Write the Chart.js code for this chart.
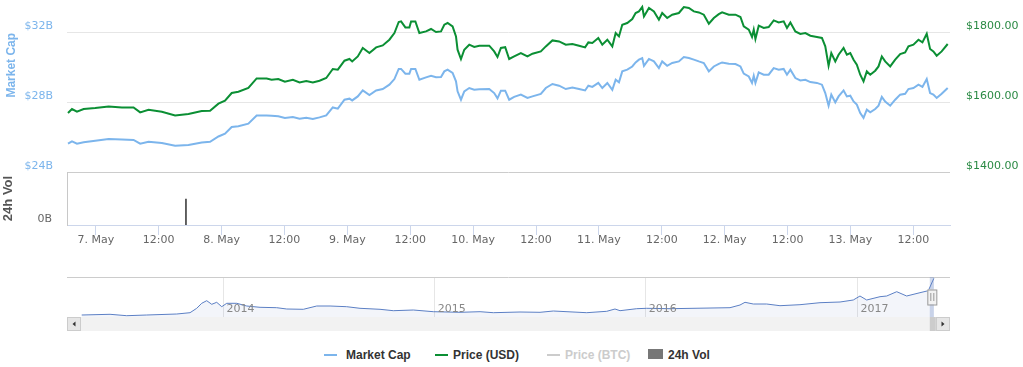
<!DOCTYPE html>
<html>
<head>
<meta charset="utf-8">
<script src="https://cdn.jsdelivr.net/npm/chart.js@4.4.0/dist/chart.umd.min.js"></script>
<style>
html,body{margin:0;padding:0;background:#fff;}
#wrap{position:relative;width:1023px;height:367px;overflow:hidden;background:#fff;}
#main{position:absolute;left:0;top:0;}
#nav{position:absolute;left:0;top:262px;}
.lg{position:absolute;font:bold 12px "Liberation Sans",Arial,sans-serif;color:#333;line-height:14px;white-space:nowrap;}
.sym{position:absolute;}
</style>
</head>
<body>
<div id="wrap">
  <canvas id="main" width="1023" height="260"></canvas>
  <canvas id="nav" width="1023" height="75"></canvas>
  <div class="sym" style="left:324px;top:354px;width:13px;height:2px;background:#7cb5ec"></div>
  <div class="lg" style="left:346px;top:348px;">Market Cap</div>
  <div class="sym" style="left:435px;top:354px;width:13px;height:2px;background:#0b8f34"></div>
  <div class="lg" style="left:453px;top:348px;">Price (USD)</div>
  <div class="sym" style="left:547px;top:354px;width:13px;height:2px;background:#cccccc"></div>
  <div class="lg" style="left:565px;top:348px;color:#cccccc">Price (BTC)</div>
  <div class="sym" style="left:648px;top:349px;width:15px;height:10px;background:#777777"></div>
  <div class="lg" style="left:668px;top:348px;">24h Vol</div>
</div>
<script>
// ---- data (hours since 7 May 2017 00:00) ----
const hours = [-5.31,-4.55,-3.60,-2.32,-0.11,2.44,4.98,7.20,8.46,10.06,12.60,15.13,17.68,20.21,21.80,23.40,24.65,25.93,27.20,29.11,30.69,32.60,33.55,34.82,36.08,37.60,38.88,40.16,41.41,42.69,43.97,45.22,46.18,47.45,48.40,48.92,49.99,50.94,52.21,53.49,54.75,56.02,56.98,57.80,58.25,59.07,59.83,60.16,60.98,61.74,63.01,63.97,64.92,65.87,66.50,67.13,68.08,68.73,69.03,69.68,70.31,71.26,72.21,73.17,75.07,76.02,76.65,77.30,78.12,78.88,79.83,81.11,82.37,83.32,84.92,85.87,87.13,88.40,89.68,90.94,92.21,93.36,93.99,94.75,95.89,96.65,97.61,98.56,99.20,99.83,100.46,101.41,102.37,103.01,103.64,104.27,104.60,105.55,106.50,107.45,108.08,109.03,109.99,111.26,112.21,113.17,114.12,115.07,116.02,116.98,117.93,118.88,119.51,120.79,122.06,123.01,123.64,124.60,125.22,125.55,125.87,126.50,127.45,128.40,129.36,130.31,131.26,131.89,132.54,133.49,134.44,135.40,136.35,137.60,138.56,139.20,139.83,140.35,141.11,141.74,142.69,143.32,143.97,144.60,145.22,145.87,146.50,147.13,147.78,148.73,149.36,149.99,150.63,151.59,152.54,153.49,154.44,155.07,156.02,156.98,157.74,158.56,159.20,159.83,160.46,161.41,162.56];
const priceUsd = [1568.6,1580.0,1572.3,1580.0,1582.9,1587.4,1584.6,1584.6,1570.3,1578.0,1572.3,1561.7,1565.7,1574.3,1575.1,1595.2,1603.7,1625.7,1629.4,1640.0,1667.4,1667.4,1663.7,1665.7,1658.0,1663.7,1656.0,1660.0,1656.0,1660.9,1668.6,1694.3,1692.3,1718.0,1722.9,1716.0,1730.3,1754.3,1740.0,1756.0,1761.7,1778.0,1797.1,1828.6,1830.3,1813.1,1813.1,1830.3,1830.3,1797.1,1801.7,1808.6,1800.0,1801.7,1820.9,1825.7,1816.0,1787.4,1749.4,1722.9,1749.4,1763.7,1757.1,1760.9,1760.9,1744.6,1728.6,1754.3,1756.6,1722.9,1730.3,1740.0,1730.3,1738.0,1744.6,1758.9,1776.0,1773.1,1763.7,1765.7,1760.9,1756.0,1770.3,1768.6,1782.9,1763.7,1778.0,1758.9,1797.1,1787.4,1820.9,1825.7,1837.1,1854.3,1858.9,1871.4,1844.6,1868.6,1858.9,1835.1,1854.3,1840.0,1849.4,1854.3,1871.4,1868.6,1858.9,1856.0,1849.4,1823.7,1840.0,1850.9,1856.0,1849.4,1849.4,1842.9,1816.0,1806.6,1785.7,1806.6,1780.0,1818.0,1811.4,1814.3,1833.1,1827.4,1830.3,1811.4,1827.4,1801.7,1794.3,1797.1,1789.4,1785.7,1782.9,1758.9,1703.7,1740.0,1716.0,1735.1,1754.3,1735.1,1740.0,1720.9,1706.6,1678.0,1658.9,1687.4,1678.0,1689.4,1701.7,1730.3,1716.0,1701.7,1720.9,1737.1,1741.7,1758.9,1763.7,1778.0,1770.3,1795.1,1751.4,1744.6,1732.3,1744.6,1765.7];
const marketCapB = [25.62,25.75,25.62,25.70,25.79,25.89,25.86,25.83,25.62,25.73,25.66,25.50,25.54,25.69,25.73,26.03,26.19,26.57,26.62,26.76,27.23,27.23,27.21,27.18,27.09,27.14,27.05,27.10,27.03,27.12,27.23,27.69,27.62,28.13,28.19,28.09,28.32,28.66,28.40,28.66,28.74,28.99,29.31,29.89,29.89,29.62,29.62,29.89,29.89,29.27,29.41,29.50,29.41,29.43,29.75,29.85,29.66,29.18,28.61,28.13,28.61,28.80,28.70,28.73,28.74,28.51,28.21,28.65,28.65,28.13,28.29,28.42,28.23,28.32,28.46,28.80,29.03,28.93,28.74,28.83,28.74,28.66,28.93,28.86,29.09,28.80,29.09,28.70,29.27,29.12,29.75,29.85,30.03,30.26,30.42,30.51,30.07,30.46,30.32,29.94,30.32,30.07,30.23,30.32,30.57,30.51,30.42,30.32,30.23,29.75,30.03,30.18,30.26,30.19,30.17,30.03,29.62,29.46,29.09,29.50,29.09,29.69,29.56,29.56,29.94,29.85,29.89,29.56,29.85,29.37,29.23,29.27,29.14,29.09,28.99,28.51,27.79,28.42,27.98,28.32,28.66,28.32,28.36,28.03,27.85,27.37,27.09,27.56,27.41,27.60,27.79,28.29,28.03,27.79,28.13,28.42,28.47,28.74,28.80,28.99,28.86,29.31,28.51,28.42,28.23,28.47,28.80];
const volHours = [17.2];
const volB = [0.98];
const mcTicks = [24, 28, 32];
const priceTicks = [1400, 1600, 1800];
const dayLabels = ['7. May','8. May','9. May','10. May','11. May','12. May','13. May'];

// navigator (days since 1 Jan 2014, market cap in $B)
const navDays = [-244.3,-195.3,-166.5,-131.9,-80,-57,-45.5,-36.8,-28.2,-19.5,-10.9,-2.2,6.4,23.7,41,64,92.8,110.1,138.8,162,185,213.8,236.8,271.4,294.4,329,363.5,409.7,444.3,467.3,513.4,548,571,628.7,663.3,677.6,686.3,715.1,732.4,772.7,876.4,893.7,902.3,916.7,939.8,962.8,997.4,1032,1066.6,1089.5,1101.1,1112.7,1135.7,1147.3,1164.6,1181.8,1204.8,1219.2,1228.8];
const navCapB = [1.6,2.16,1.04,1.6,2.4,3.44,6.96,10.96,13.04,10.16,11.76,8.24,10.96,10.96,8.8,7.76,7.44,6.4,6.16,8.8,8.8,8.24,6.96,6.16,5.04,5.6,4.24,3.76,4.24,3.44,4.0,3.76,4.8,3.44,4.56,6.4,5.04,6.64,6.96,6.64,7.44,9.6,11.76,10.4,10.4,9.04,9.84,11.44,12,13.6,16.8,13.6,16.24,16.8,20.24,16.8,19.44,21.04,30.96];
const navYearDays = [0, 365, 730, 1096];
const navYearLabels = ['2014','2015','2016','2017'];
const navSelection = [1221.77, 1228.79];

// ---- styling ----
const C_MC = '#7cb5ec';
const C_PRICE = '#0b8f34';
Chart.defaults.font.family = '"DejaVu Sans", Verdana, sans-serif';
Chart.defaults.font.size = 11;

const toXY = (xs, ys) => xs.map((x, i) => ({x, y: ys[i]}));
const fitY = w => s => { s.width = w; s.paddingTop = 0; s.paddingBottom = 0; };

const mcTitle = {
  id: 'mcTitle',
  afterDraw(chart) {
    const ctx = chart.ctx;
    const s = chart.scales.yMC;
    ctx.save();
    ctx.translate(11.5, s.getPixelForValue(30.1));
    ctx.rotate(-Math.PI / 2);
    ctx.font = 'bold 12px "Liberation Sans", Arial, sans-serif';
    ctx.fillStyle = C_MC;
    ctx.textAlign = 'center';
    ctx.textBaseline = 'middle';
    ctx.fillText('Market Cap', 0, 0);
    ctx.restore();
  }
};

new Chart(document.getElementById('main'), {
  type: 'line',
  data: {
    datasets: [
      {label: 'Market Cap', data: toXY(hours, marketCapB), yAxisID: 'yMC', borderColor: C_MC, borderWidth: 2, pointRadius: 0, tension: 0, order: 2},
      {label: 'Price (USD)', data: toXY(hours, priceUsd), yAxisID: 'yPrice', borderColor: C_PRICE, borderWidth: 2, pointRadius: 0, tension: 0, order: 1},
      {type: 'bar', label: '24h Vol', data: toXY(volHours, volB), yAxisID: 'yVol', backgroundColor: '#444444', barThickness: 1, order: 3}
    ]
  },
  options: {
    responsive: false, animation: false,
    layout: {padding: {top: 4, left: 0, right: 0, bottom: 0}},
    plugins: {legend: {display: false}, tooltip: {enabled: false}},
    scales: {
      x: {
        type: 'linear', position: 'bottom', min: -5.5, max: 163, offset: false,
        afterFit(s) { s.height = 35; },
        grid: {drawOnChartArea: false, drawTicks: true, tickLength: 10, color: '#ccd6eb', offset: false},
        border: {display: true, color: '#ccd6eb'},
        ticks: {
          stepSize: 12, includeBounds: false, autoSkip: false, maxRotation: 0, padding: -1, color: '#666666',
          callback: v => (v % 24 === 0 ? dayLabels[v / 24] : '12:00')
        }
      },
      yVol: {
        type: 'linear', position: 'left', stack: 'L', stackWeight: 53, min: 0, max: 2,
        afterFit: fitY(67),
        afterBuildTicks(s) { s.ticks = [{value: 0}]; },
        grid: {display: false, drawTicks: false},
        border: {display: true, color: '#c8c8c8'},
        ticks: {padding: 15, labelOffset: -6, color: '#666666', callback: v => v + 'B'},
        title: {display: true, text: '24h Vol', color: '#555555', padding: {top: 1, bottom: 0}, font: {family: '"Liberation Sans", Arial, sans-serif', size: 13, weight: 'bold'}}
      },
      yMC: {
        type: 'linear', position: 'left', stack: 'L', stackWeight: 168, min: 24, max: 33.6,
        afterFit: fitY(67),
        afterBuildTicks(s) { s.ticks = mcTicks.map(v => ({value: v})); },
        grid: {drawTicks: false, color: c => (c.tick && c.tick.value === 24 ? '#cccccc' : '#e6e6e6')},
        border: {display: false},
        ticks: {padding: 14, labelOffset: -6, color: C_MC, callback: v => '$' + v + 'B'}
      },
      yPrice: {
        type: 'linear', position: 'right', stack: 'R', stackWeight: 168, min: 1400, max: 1880,
        afterFit: fitY(73),
        afterBuildTicks(s) { s.ticks = priceTicks.map(v => ({value: v})); },
        grid: {display: false, drawTicks: false},
        border: {display: false},
        ticks: {padding: 16, labelOffset: -6, color: '#2a8a44', callback: v => '$' + v.toFixed(2)}
      },
      yPad: {
        type: 'linear', position: 'right', stack: 'R', stackWeight: 53, min: 0, max: 1,
        afterFit: fitY(73),
        grid: {display: false, drawTicks: false}, border: {display: false}, ticks: {display: false}
      }
    }
  },
  plugins: [mcTitle]
});

const navDeco = {
  id: 'navDeco',
  afterDraw(chart) {
    const {ctx, chartArea: ca} = chart;
    const x = chart.scales.x;
    ctx.save();
    ctx.strokeStyle = '#cccccc'; ctx.lineWidth = 1;
    ctx.beginPath(); ctx.moveTo(ca.left, ca.top + 0.5); ctx.lineTo(ca.right, ca.top + 0.5); ctx.stroke();
    ctx.font = '11px "DejaVu Sans", Verdana, sans-serif';
    ctx.fillStyle = '#888888'; ctx.textAlign = 'left'; ctx.textBaseline = 'middle';
    navYearDays.forEach((d, i) => ctx.fillText(navYearLabels[i], x.getPixelForValue(d) + 3.5, ca.bottom - 8));
    const x0 = x.getPixelForValue(navSelection[0]);
    const x1 = x.getPixelForValue(navSelection[1]);
    ctx.fillStyle = 'rgba(102,133,194,0.3)';
    ctx.fillRect(x0, ca.top, x1 - x0, ca.bottom - ca.top);
    // scrollbar
    const sy = ca.bottom, sh = 14, bw = 14;
    ctx.fillStyle = '#f2f2f2'; ctx.fillRect(ca.left, sy, ca.right - ca.left, sh);
    ctx.fillStyle = '#cccccc'; ctx.fillRect(x0, sy, Math.max(x1 - x0, 6), sh);
    ctx.strokeStyle = '#cccccc';
    [[ca.left, -1], [ca.right - bw, 1]].forEach(([bx, dir]) => {
      ctx.fillStyle = '#e6e6e6';
      ctx.fillRect(bx, sy, bw, sh);
      ctx.strokeRect(bx + 0.5, sy + 0.5, bw - 1, sh - 1);
      ctx.fillStyle = '#333333';
      const cx = bx + bw / 2, cy = sy + sh / 2;
      ctx.beginPath();
      ctx.moveTo(cx + dir * 1.5, cy);
      ctx.lineTo(cx - dir * 1.5, cy - 2.5);
      ctx.lineTo(cx - dir * 1.5, cy + 2.5);
      ctx.closePath(); ctx.fill();
    });
    // handle
    const hx = (x0 + x1) / 2, hy = ca.top + (ca.bottom - ca.top) / 2;
    ctx.fillStyle = '#f2f2f2'; ctx.strokeStyle = '#999999';
    ctx.fillRect(hx - 4.5, hy - 7.5, 9, 15);
    ctx.strokeRect(hx - 4.5 + 0.5, hy - 7.5 + 0.5, 9, 15);
    ctx.beginPath();
    ctx.moveTo(hx - 1, hy - 4); ctx.lineTo(hx - 1, hy + 4);
    ctx.moveTo(hx + 2, hy - 4); ctx.lineTo(hx + 2, hy + 4);
    ctx.stroke();
    ctx.restore();
  }
};

new Chart(document.getElementById('nav'), {
  type: 'line',
  data: {
    datasets: [{
      label: 'Navigator', data: toXY(navDays, navCapB), borderColor: '#5b7fc4', borderWidth: 1,
      backgroundColor: 'rgba(51,92,173,0.06)', fill: 'start', pointRadius: 0, tension: 0
    }]
  },
  options: {
    responsive: false, animation: false,
    layout: {padding: {top: 15, left: 67, right: 73, bottom: 0}},
    plugins: {legend: {display: false}, tooltip: {enabled: false}},
    scales: {
      x: {
        type: 'linear', min: -269.7, max: 1256.7,
        afterFit(s) { s.height = 20; },
        afterBuildTicks(s) { s.ticks = navYearDays.map(v => ({value: v})); },
        grid: {drawTicks: false, color: '#e6e6e6'},
        border: {display: false},
        ticks: {display: false}
      },
      y: {display: false, min: 0, max: 32}
    }
  },
  plugins: [navDeco]
});
</script>
</body>
</html>
